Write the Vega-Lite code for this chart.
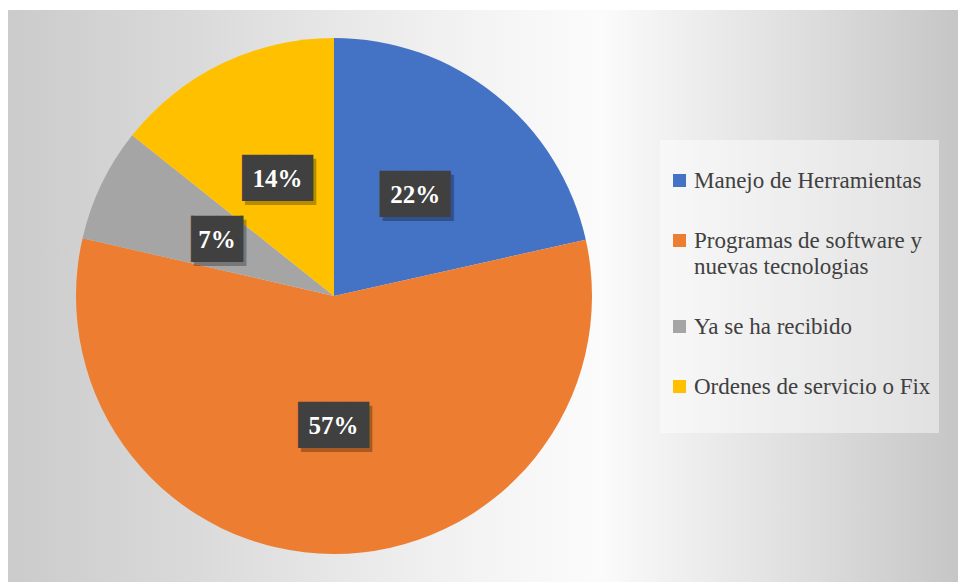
{
  "$schema": "https://vega.github.io/schema/vega-lite/v6.json",
  "padding": {"left": 8, "top": 10, "right": 0, "bottom": 0},
  "autosize": {"type": "pad"},
  "spacing": 0,
  "config": {
    "background": "white",
    "view": {"stroke": null},
    "style": {"guide-label": {"lineHeight": 26}}
  },
  "data": {
    "values": [
      {"cat": "Manejo de Herramientas", "pct": 21.5, "etiqueta": "22%", "orden": 1},
      {"cat": "Programas de software y nuevas tecnologias", "pct": 57.1, "etiqueta": "57%", "orden": 2},
      {"cat": "Ya se ha recibido", "pct": 7.1, "etiqueta": "7%", "orden": 3},
      {"cat": "Ordenes de servicio o Fix", "pct": 14.3, "etiqueta": "14%", "orden": 4}
    ]
  },
  "hconcat": [
    {
      "width": 652,
      "height": 572,
      "view": {
        "stroke": null,
        "fill": {
          "gradient": "linear", "x1": 0, "y1": 0, "x2": 1, "y2": 0,
          "stops": [
            {"offset": 0, "color": "#cbcbcb"},
            {"offset": 0.29, "color": "#dadada"},
            {"offset": 0.63, "color": "#efefef"},
            {"offset": 0.8, "color": "#f7f7f7"},
            {"offset": 0.91, "color": "#fbfbfb"},
            {"offset": 1, "color": "#f2f2f2"}
          ]
        }
      },
      "encoding": {
        "theta": {"field": "pct", "type": "quantitative", "stack": true},
        "order": {"field": "orden", "type": "quantitative"}
      },
      "layer": [
        {
          "mark": {"type": "arc", "outerRadius": 258},
          "encoding": {
            "color": {
              "field": "cat", "type": "nominal",
              "scale": {
                "domain": ["Manejo de Herramientas", "Programas de software y nuevas tecnologias", "Ya se ha recibido", "Ordenes de servicio o Fix"],
                "range": ["#4472C4", "#ED7D31", "#A5A5A5", "#FFC000"]
              },
              "legend": null
            }
          }
        },
        {
          "mark": {"type": "text", "radius": 130, "dx": 3, "dy": 4, "font": "DejaVu Sans Mono", "fontSize": 39, "baseline": "middle", "align": "center", "fill": "#000000", "opacity": 0.28},
          "encoding": {
            "detail": {"field": "cat", "type": "nominal"},
            "text": {"condition": {"test": "datum.pct < 10", "value": "▕██▏"}, "value": "███"}
          }
        },
        {
          "mark": {"type": "text", "radius": 130, "font": "DejaVu Sans Mono", "fontSize": 39, "baseline": "middle", "align": "center", "fill": "#404040"},
          "encoding": {
            "detail": {"field": "cat", "type": "nominal"},
            "text": {"condition": {"test": "datum.pct < 10", "value": "▕██▏"}, "value": "███"}
          }
        },
        {
          "mark": {"type": "text", "radius": 130, "font": "Liberation Serif", "fontSize": 25, "fontWeight": "bold", "baseline": "middle", "align": "center", "fill": "#ffffff"},
          "encoding": {
            "detail": {"field": "cat", "type": "nominal"},
            "text": {"field": "etiqueta", "type": "nominal"}
          }
        }
      ]
    },
    {
      "width": 298,
      "height": 572,
      "view": {
        "stroke": null,
        "fill": {
          "gradient": "linear", "x1": 0, "y1": 0, "x2": 1, "y2": 0,
          "stops": [
            {"offset": 0, "color": "#f2f2f2"},
            {"offset": 0.5, "color": "#dddddd"},
            {"offset": 1, "color": "#c6c6c6"}
          ]
        }
      },
      "mark": {"type": "arc", "outerRadius": 0},
      "encoding": {
        "theta": {"field": "pct", "type": "quantitative", "stack": true},
        "order": {"field": "orden", "type": "quantitative"},
        "color": {
          "field": "cat", "type": "nominal",
          "scale": {
            "domain": ["Manejo de Herramientas", "Programas de software y nuevas tecnologias", "Ya se ha recibido", "Ordenes de servicio o Fix"],
            "range": ["#4472C4", "#ED7D31", "#A5A5A5", "#FFC000"]
          },
          "legend": {
            "title": " ",
            "titleFontSize": 12,
            "titlePadding": 9,
            "orient": "none",
            "legendX": 0,
            "legendY": 130,
            "symbolType": "square",
            "symbolSize": 169,
            "symbolStrokeWidth": 0,
            "labelFont": "Liberation Serif",
            "labelFontSize": 23,
            "labelColor": "#404040",
            "labelLimit": 400,
            "labelOffset": 3,
            "padding": 8,
            "rowPadding": 36,
            "fillColor": "rgba(255,255,255,0.45)",
            "labelExpr": "datum.label == 'Programas de software y nuevas tecnologias' ? ['Programas de software y', 'nuevas tecnologias'] : datum.label == 'Ordenes de servicio o Fix' ? ['Ordenes de servicio o Fix', ' '] : datum.label"
          }
        }
      }
    }
  ],
  "resolve": {"legend": {"color": "independent"}}
}
